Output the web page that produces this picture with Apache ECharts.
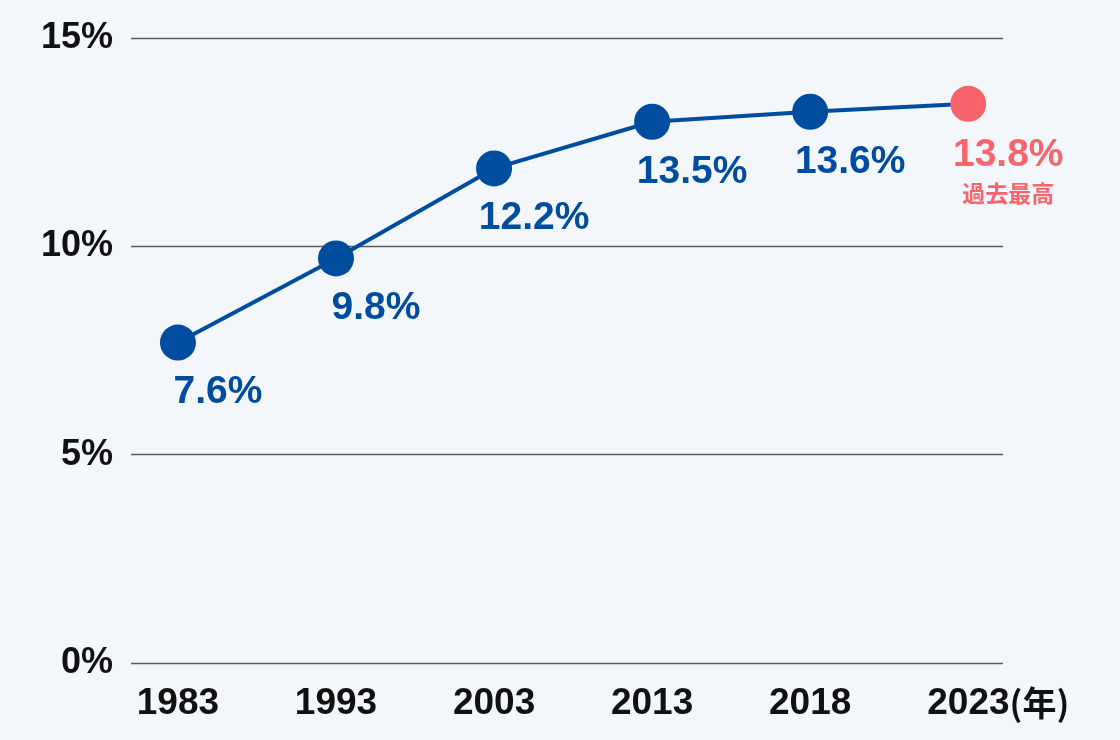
<!DOCTYPE html>
<html>
<head>
<meta charset="utf-8">
<script src="https://cdn.jsdelivr.net/npm/echarts@6/dist/echarts.min.js"></script>
<style>
html,body{margin:0;padding:0;background:#F3F7FB;}
#c{width:1120px;height:740px;}
</style>
</head>
<body>
<div id="c"></div>
<script>
// Data
const years = ['1983', '1993', '2003', '2013', '2018', '2023'];
const values = [7.69, 9.71, 11.87, 12.99, 13.23, 13.42];   // plotted positions
const valueLabels = ['7.6%', '9.8%', '12.2%', '13.5%', '13.6%', '13.8%'];
const yTicks = [0, 5, 10, 15];
const highlightNote = '過去最高';
const yearUnit = '(年)';

const BLUE = '#004C9E';
const PINK = '#F8646C';
const FONT = '"Liberation Sans", Arial, sans-serif';

const lastIdx = years.length - 1;
const seriesData = values.map((v, i) => {
  const item = { value: [i, v] };
  if (i === lastIdx) {
    item.itemStyle = { color: PINK };
    item.label = {
      formatter: '{a|' + valueLabels[i] + '}\n{b|' + highlightNote + '}',
      offset: [40, 67],
      rich: {
        a: { fontSize: 39, fontWeight: 'bold', color: PINK, fontFamily: FONT, lineHeight: 44, align: 'center' },
        b: { fontSize: 23, fontWeight: 'bold', color: PINK, fontFamily: '"Noto Sans CJK JP", sans-serif', lineHeight: 32, align: 'center' }
      }
    };
  }
  return item;
});

const chart = echarts.init(document.getElementById('c'), null, { renderer: 'canvas' });
chart.setOption({
  backgroundColor: '#F3F7FB',
  animation: false,
  grid: { left: 131, right: 117, top: 38, bottom: 77, containLabel: false },
  xAxis: {
    type: 'value',
    min: -0.297,
    max: 5.22,
    splitLine: { show: false },
    axisLine: { show: false },
    axisTick: { show: false },
    axisLabel: {
      customValues: years.map((y, i) => i),
      margin: 22,
      fontSize: 37,
      fontWeight: 'bold',
      color: '#111',
      fontFamily: FONT,
      formatter: function (v) {
        const i = Math.round(v);
        if (i === lastIdx) return '{p|}' + years[i] + '{u|' + yearUnit + '}';
        return years[i] || '';
      },
      rich: {
        p: { width: 60 },
        u: { fontSize: 34, fontWeight: 'bold', color: '#111', fontFamily: '"Noto Sans CJK JP", sans-serif' }
      }
    }
  },
  yAxis: {
    type: 'value',
    min: yTicks[0],
    max: yTicks[yTicks.length - 1],
    interval: 5,
    axisLine: { show: false },
    axisTick: { show: false },
    splitLine: { lineStyle: { color: '#5a5a5a', width: 1.3 } },
    axisLabel: {
      formatter: '{value}%',
      margin: 18,
      fontSize: 36,
      fontWeight: 'bold',
      color: '#111',
      fontFamily: FONT
    }
  },
  series: [{
    type: 'line',
    data: seriesData,
    symbol: 'circle',
    symbolSize: 36,
    showAllSymbol: true,
    lineStyle: { color: BLUE, width: 4 },
    itemStyle: { color: BLUE },
    label: {
      show: true,
      position: 'inside',
      offset: [40, 50],
      formatter: function (p) { return valueLabels[p.dataIndex]; },
      fontSize: 39,
      fontWeight: 'bold',
      color: BLUE,
      fontFamily: FONT
    },
    emphasis: { disabled: true }
  }]
});
</script>
</body>
</html>
